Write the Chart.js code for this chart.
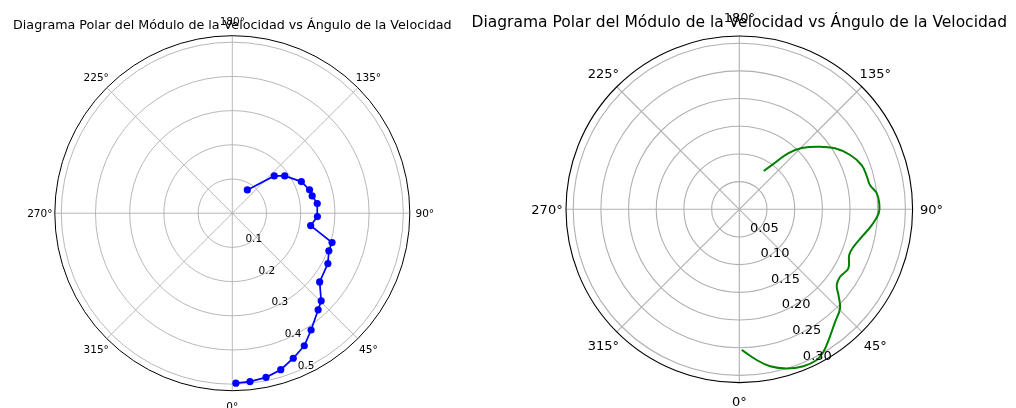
<!DOCTYPE html>
<html>
<head>
<meta charset="utf-8">
<script src="https://cdn.jsdelivr.net/npm/chart.js@4"></script>
<style>
	body { margin: 0; background: #fff; }
	canvas { position: absolute; top: 0; }
	#polar-left { left: 0; }
	#polar-right { left: 456px; }
</style>
</head>
<body>
<canvas id="polar-left" width="508" height="408"></canvas>
<canvas id="polar-right" width="560" height="408"></canvas>
<script>
const titleText = "Diagrama Polar del Módulo de la Velocidad vs Ángulo de la Velocidad"
const angleTicks = [0, 45, 90, 135, 180, 225, 270, 315]

// sampled run: angle of the velocity (deg) and its modulus
const leftAngles = [1.2, 6.0, 11.6, 17.2, 22.8, 28.5, 34.0, 41.6, 45.4, 51.8, 62.2, 68.7, 73.6, 81.0, 87.7, 96.5, 102.2, 106.8, 114.6, 125.4, 131.6, 147.2]
const leftModulus = [0.497, 0.495, 0.490, 0.479, 0.460, 0.441, 0.412, 0.378, 0.365, 0.325, 0.316, 0.303, 0.304, 0.232, 0.249, 0.250, 0.239, 0.236, 0.222, 0.188, 0.164, 0.081]
const leftTicks = [0.1, 0.2, 0.3, 0.4, 0.5]

// smooth run
const rightAngles = [1.0, 6.6, 11.1, 16.6, 22.2, 27.2, 30.5, 34.9, 40.4, 45.5, 49.1, 52.1, 56.2, 61.6, 67.4, 71.8, 77.4, 83.2, 88.4, 92.5, 96.6, 100.5, 104.4, 109.9, 116.1, 122.5, 128.4, 134.4, 138.8, 142.5, 147.5]
const rightModulus = [0.254, 0.274, 0.289, 0.300, 0.306, 0.306, 0.299, 0.284, 0.267, 0.255, 0.237, 0.223, 0.219, 0.224, 0.215, 0.217, 0.227, 0.241, 0.252, 0.253, 0.250, 0.240, 0.238, 0.235, 0.223, 0.205, 0.182, 0.158, 0.135, 0.106, 0.082]
const rightTicks = [0.05, 0.10, 0.15, 0.20, 0.25, 0.30]

const FONT = "'DejaVu Sans', sans-serif"

// 0 deg at the bottom, angles grow counter-clockwise
function toXY(angles, modulus) {
	return angles.map((a, i) => {
		const t = a * Math.PI / 180
		return { x: modulus[i] * Math.sin(t), y: -modulus[i] * Math.cos(t) }
	})
}

const polarFrame = {
	id: "polarFrame",
	beforeDatasetsDraw(chart, args, o) {
		const ctx = chart.ctx
		const cx = chart.scales.x.getPixelForValue(0)
		const cy = chart.scales.y.getPixelForValue(0)
		const k = chart.scales.x.getPixelForValue(1) - cx
		const R = o.rmax * k
		ctx.save()
		ctx.strokeStyle = "#b0b0b0"
		ctx.lineWidth = o.gridWidth
		o.ticks.forEach(r => {
			ctx.beginPath()
			ctx.arc(cx, cy, r * k, 0, 2 * Math.PI)
			ctx.stroke()
		})
		angleTicks.forEach(a => {
			const t = a * Math.PI / 180
			ctx.beginPath()
			ctx.moveTo(cx, cy)
			ctx.lineTo(cx + R * Math.sin(t), cy + R * Math.cos(t))
			ctx.stroke()
		})
		ctx.restore()
	},
	afterDatasetsDraw(chart, args, o) {
		const ctx = chart.ctx
		const cx = chart.scales.x.getPixelForValue(0)
		const cy = chart.scales.y.getPixelForValue(0)
		const k = chart.scales.x.getPixelForValue(1) - cx
		const R = o.rmax * k
		ctx.save()
		ctx.strokeStyle = "#000"
		ctx.lineWidth = o.spineWidth
		ctx.beginPath()
		ctx.arc(cx, cy, R, 0, 2 * Math.PI)
		ctx.stroke()

		ctx.fillStyle = "#000"
		ctx.font = o.fontSize + "px " + FONT
		ctx.textAlign = "center"
		ctx.textBaseline = "alphabetic"
		angleTicks.forEach(a => {
			const t = a * Math.PI / 180
			const d = R + o.labelGap
			ctx.fillText(a + "°", cx + d * Math.sin(t), cy + d * Math.cos(t) + 0.365 * o.fontSize)
		})

		// radial tick labels sit along the 22.5 deg line
		const s = Math.sin(22.5 * Math.PI / 180), c = Math.cos(22.5 * Math.PI / 180)
		ctx.textAlign = "left"
		o.ticks.forEach(r => {
			ctx.fillText(r.toFixed(o.decimals), cx + r * k * s, cy + r * k * c - 0.24 * o.fontSize)
		})

		ctx.font = o.titleSize + "px " + FONT
		ctx.textAlign = "center"
		ctx.fillText(titleText, cx, o.titleY)
		ctx.restore()
	}
}

function polarChart(id, points, style, frame, center) {
	const canvas = document.getElementById(id)
	return new Chart(canvas.getContext("2d"), {
		type: "scatter",
		data: {
			datasets: [
				Object.assign({ data: points, showLine: true, clip: false }, style)
			]
		},
		options: {
			responsive: false,
			animation: false,
			events: [],
			layout: {
				padding: {
					left: center.x - center.r,
					right: canvas.width - center.x - center.r,
					top: center.y - center.r,
					bottom: canvas.height - center.y - center.r
				}
			},
			scales: {
				x: { type: "linear", min: -frame.rmax, max: frame.rmax, display: false },
				y: { type: "linear", min: -frame.rmax, max: frame.rmax, display: false }
			},
			plugins: {
				legend: { display: false },
				tooltip: { enabled: false },
				polarFrame: frame
			}
		},
		plugins: [polarFrame]
	})
}

polarChart("polar-left", toXY(leftAngles, leftModulus), {
	borderColor: "#0000ff",
	backgroundColor: "#0000ff",
	borderWidth: 1.7,
	pointRadius: 3.6,
	pointBorderWidth: 0
}, {
	rmax: 0.519,
	ticks: leftTicks,
	decimals: 1,
	fontSize: 10.5,
	titleSize: 12.7,
	titleY: 29,
	labelGap: 15,
	gridWidth: 0.9,
	spineWidth: 1
}, { x: 232.3, y: 213.2, r: 177.5 })

// this canvas starts at x = 456, so its centre sits at 739.3 on the page
polarChart("polar-right", toXY(rightAngles, rightModulus), {
	borderColor: "#008000",
	borderWidth: 2,
	pointRadius: 0,
	tension: 0.4
}, {
	rmax: 0.313,
	ticks: rightTicks,
	decimals: 2,
	fontSize: 13,
	titleSize: 15.5,
	titleY: 27,
	labelGap: 19,
	gridWidth: 1.1,
	spineWidth: 1.1
}, { x: 283.3, y: 209.3, r: 173.3 })
</script>
</body>
</html>
